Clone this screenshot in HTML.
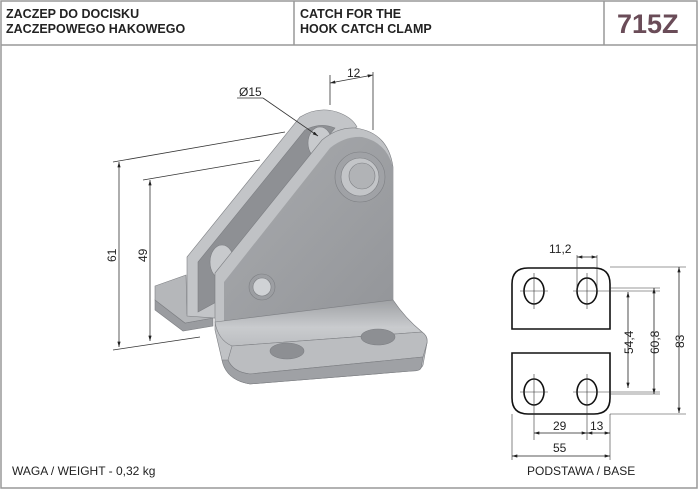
<!DOCTYPE html>
<html><head><meta charset="utf-8"><style>
html,body{margin:0;padding:0;background:#fff;width:700px;height:490px;overflow:hidden}
svg{display:block}
text{font-family:"Liberation Sans",Arial,sans-serif}
</style></head><body>
<svg width="700" height="490" viewBox="0 0 700 490" xmlns="http://www.w3.org/2000/svg">
<defs>
<marker id="a" viewBox="0 0 10 6" refX="10" refY="3" markerWidth="7" markerHeight="4" orient="auto-start-reverse"><path d="M0,0L10,3L0,6z" fill="#222"/></marker>
<linearGradient id="gf" x1="0" y1="0" x2="1" y2="1"><stop offset="0" stop-color="#a9abae"/><stop offset="1" stop-color="#939599"/></linearGradient>
<linearGradient id="gb" x1="0" y1="0" x2="0" y2="1"><stop offset="0" stop-color="#9fa1a4"/><stop offset="0.6" stop-color="#c9cbce"/><stop offset="1" stop-color="#bcbec1"/></linearGradient>
</defs>
<rect x="1" y="1" width="696" height="487" fill="none" stroke="#999" stroke-width="1.5"/>
<line x1="1" y1="45" x2="697" y2="45" stroke="#999" stroke-width="1.5"/>
<line x1="294" y1="1" x2="294" y2="45" stroke="#999" stroke-width="1.5"/>
<line x1="604" y1="1" x2="604" y2="45" stroke="#999" stroke-width="1.5"/>
<g font-size="12.5" font-weight="bold" fill="#222">
<text x="6" y="18">ZACZEP DO DOCISKU</text>
<text x="6" y="33">ZACZEPOWEGO HAKOWEGO</text>
<text x="300" y="18">CATCH FOR THE</text>
<text x="300" y="33">HOOK CATCH CLAMP</text>
</g>
<text x="617" y="33" font-size="27" font-weight="bold" fill="#6a4c58">715Z</text>

<g stroke="#7d7f83" stroke-width="0.6">
<path d="M155,300 L185,323 L213,318 L213,326 L183,331 L155,310 Z" fill="#9a9ca0"/>
<path d="M155,286 L186,275 L187,314 L213,318 L185,323 L155,300 Z" fill="#b5b7ba"/>
<path d="M187,316 L187,257 L300,117 Q318,106 337,112 Q352,117 357,127 L330,140 L222,300 L215,318 Z" fill="#c3c5c8"/>
<path d="M198,312 L198,262 L305,130 Q320,122 335,128 L325,140 L220,300 Z" fill="#8e9094"/>
<ellipse cx="320" cy="143" rx="12" ry="16" fill="#c8cacd"/>
<ellipse cx="222" cy="262" rx="12" ry="17" fill="#c8cacd"/>
<path d="M215,273 L322,140 Q338,127 355,128 Q388,132 393,167 L393,300 Q405,318 422,332 Q428,336 427,343 L423,365 Q421,370 412,371 L250,384 Q226,380 222,360 L215,330 Z" fill="#c0c2c5"/>
<path d="M224,322 L224,282 L330,148 Q345,136 362,137 Q386,142 393,167 L393,300 Z" fill="url(#gf)" stroke="none"/>
<path d="M215,322 L393,300 Q405,318 422,332 L232,346 Q218,340 215,322 Z" fill="url(#gb)"/>
<path d="M232,346 L422,332 Q428,336 427,343 L423,357 L250,374 Q233,372 228,360 Z" fill="#bbbdc0"/>
<path d="M228,360 Q233,372 250,374 L423,357 L421,368 Q420,371 412,371 L250,384 Q226,380 222,360 Z" fill="#9fa1a5"/>
<ellipse cx="287" cy="351" rx="17" ry="8" fill="#8d8f93"/>
<ellipse cx="378" cy="337" rx="17" ry="8" fill="#8d8f93"/>
<circle cx="262" cy="287" r="13" fill="#9c9ea2"/>
<circle cx="262" cy="287" r="9" fill="#d0d2d5"/>
<circle cx="360" cy="177" r="25" fill="#a0a2a6"/>
<circle cx="360" cy="177" r="19" fill="#c3c5c8"/>
<circle cx="362" cy="176" r="13" fill="#b1b3b6"/>
</g>

<g stroke="#333" stroke-width="0.8" fill="none">
<line x1="113" y1="162" x2="285" y2="132"/>
<line x1="113" y1="350" x2="200" y2="337"/>
<line x1="119" y1="162" x2="119" y2="347" marker-start="url(#a)" marker-end="url(#a)"/>
<line x1="143" y1="180" x2="260" y2="160"/>
<line x1="150" y1="180" x2="150" y2="341" marker-start="url(#a)" marker-end="url(#a)"/>
<line x1="330" y1="75" x2="330" y2="105"/>
<line x1="373" y1="72" x2="373" y2="130"/>
<line x1="330" y1="83" x2="373" y2="75" marker-start="url(#a)" marker-end="url(#a)"/>
<line x1="237" y1="98" x2="263" y2="98"/>
<line x1="263" y1="98" x2="318" y2="136" marker-end="url(#a)"/>
</g>
<g font-size="12" fill="#222">
<text x="347" y="77">12</text>
<text x="239" y="96">Ø15</text>
<text transform="translate(116,262) rotate(-90)">61</text>
<text transform="translate(147,262) rotate(-90)">49</text>
</g>

<g stroke="#111" stroke-width="1.6" fill="none">
<path d="M512,329 L512,284 Q512,268 528,268 L594,268 Q610,268 610,284 L610,329 Z"/>
<path d="M512,353 L610,353 L610,398 Q610,414 594,414 L528,414 Q512,414 512,398 Z"/>
<ellipse cx="534" cy="291" rx="10" ry="13"/>
<ellipse cx="587" cy="291" rx="10" ry="13"/>
<ellipse cx="534" cy="392" rx="10" ry="13"/>
<ellipse cx="587" cy="392" rx="10" ry="13"/>
</g>
<g stroke="#333" stroke-width="0.6" fill="none">
<line x1="520" y1="291" x2="548" y2="291"/><line x1="534" y1="273" x2="534" y2="309"/>
<line x1="573" y1="291" x2="660" y2="291"/><line x1="587" y1="273" x2="587" y2="309"/>
<line x1="520" y1="392" x2="548" y2="392"/><line x1="534" y1="374" x2="534" y2="440"/>
<line x1="573" y1="392" x2="660" y2="392"/><line x1="587" y1="374" x2="587" y2="440"/>
<line x1="577" y1="255" x2="577" y2="291"/><line x1="597" y1="255" x2="597" y2="291"/>
<line x1="610" y1="267" x2="686" y2="267"/><line x1="610" y1="414" x2="686" y2="414"/>
<line x1="610" y1="288" x2="660" y2="288"/><line x1="610" y1="394" x2="660" y2="394"/>
<line x1="512" y1="414" x2="512" y2="460"/><line x1="610" y1="414" x2="610" y2="460"/>
</g>
<g stroke="#222" stroke-width="0.8" fill="none">
<line x1="577" y1="257" x2="597" y2="257" marker-start="url(#a)" marker-end="url(#a)"/>
<line x1="679" y1="267" x2="679" y2="413" marker-start="url(#a)" marker-end="url(#a)"/>
<line x1="654" y1="288" x2="654" y2="394" marker-start="url(#a)" marker-end="url(#a)"/>
<line x1="628" y1="292" x2="628" y2="388" marker-start="url(#a)" marker-end="url(#a)"/>
<line x1="534" y1="433" x2="587" y2="433" marker-start="url(#a)" marker-end="url(#a)"/>
<line x1="587" y1="433" x2="610" y2="433" marker-start="url(#a)" marker-end="url(#a)"/>
<line x1="512" y1="456" x2="610" y2="456" marker-start="url(#a)" marker-end="url(#a)"/>
</g>
<g font-size="12" fill="#222">
<text x="549" y="253">11,2</text>
<text transform="translate(684,348) rotate(-90)">83</text>
<text transform="translate(659,354) rotate(-90)">60,8</text>
<text transform="translate(633,354) rotate(-90)">54,4</text>
<text x="553" y="430">29</text>
<text x="590" y="430">13</text>
<text x="553" y="452">55</text>
<text x="527" y="475">PODSTAWA / BASE</text>
<text x="12" y="475">WAGA / WEIGHT - 0,32 kg</text>
</g>
</svg>
</body></html>
